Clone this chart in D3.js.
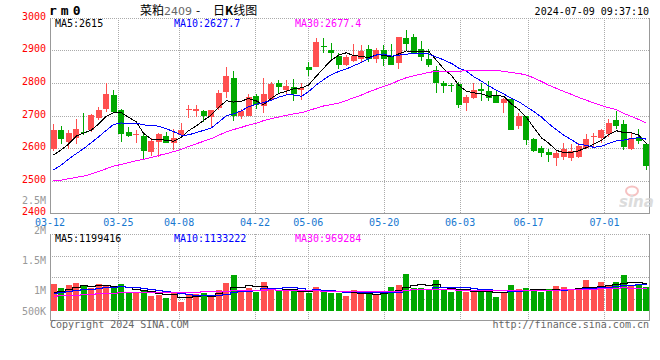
<!DOCTYPE html>
<html>
<head>
<meta charset="UTF-8">
<title>菜粕2409 - 日K线图</title>
<script src="https://d3js.org/d3.v7.min.js"></script>
<style>
    body {
        margin: 0;
        background-color: #fff;
    }
    svg text {
        font-family: "DejaVu Sans Mono", monospace;
        font-size: 10px;
    }
</style>
</head>
<body>
<svg id="main" width="660" height="360"></svg>
<script>
// trading days shown on the chart
const dates = [
    "03-12","03-13","03-14","03-15",
    "03-18","03-19","03-20","03-21","03-22",
    "03-25","03-26","03-27","03-28","03-29",
    "04-01","04-02","04-03",
    "04-08","04-09","04-10","04-11","04-12",
    "04-15","04-16","04-17","04-18","04-19",
    "04-22","04-23","04-24","04-25","04-26",
    "04-29","04-30",
    "05-06","05-07","05-08","05-09","05-10",
    "05-13","05-14","05-15","05-16","05-17",
    "05-20","05-21","05-22","05-23","05-24",
    "05-27","05-28","05-29","05-30","05-31",
    "06-03","06-04","06-05","06-06","06-07",
    "06-11","06-12","06-13","06-14",
    "06-17","06-18","06-19","06-20","06-21",
    "06-24","06-25","06-26","06-27","06-28",
    "07-01","07-02","07-03","07-04","07-05",
    "07-08","07-09"
];

const opens = [
    2596,2656,2620,2630,2650,2654,2693,2719,2763,2717,
    2649,2639,2637,2589,2620,2637,2617,2640,2718,2714,
    2715,2694,2722,2773,2814,2699,2699,2760,2729,2752,
    2801,2778,2787,2778,2848,2848,2913,2901,2883,2855,
    2867,2872,2904,2874,2901,2879,2860,2937,2942,2903,
    2872,2840,2799,2793,2797,2737,2755,2782,2775,2760,
    2739,2750,2668,2697,2629,2599,2589,2570,2574,2571,
    2574,2599,2633,2630,2643,2686,2674,2597,2633,2613
];
const highs = [
    2673,2668,2654,2688,2707,2705,2725,2799,2778,2719,
    2666,2656,2650,2630,2645,2650,2658,2678,2732,2732,
    2717,2717,2778,2850,2835,2720,2766,2766,2814,2804,
    2809,2809,2811,2799,2863,2937,2937,2921,2893,2886,
    2919,2916,2916,2906,2916,2919,2942,2962,2950,2930,
    2903,2852,2806,2799,2804,2763,2799,2801,2806,2778,
    2753,2753,2709,2699,2630,2605,2598,2594,2617,2613,
    2615,2643,2647,2658,2688,2714,2686,2645,2658,2615
];
const lows = [
    2592,2613,2598,2613,2640,2650,2686,2712,2707,2620,
    2635,2617,2566,2576,2574,2615,2594,2633,2691,2694,
    2681,2666,2717,2753,2684,2688,2699,2719,2707,2748,
    2768,2766,2746,2748,2822,2848,2891,2872,2842,2852,
    2865,2862,2865,2860,2852,2854,2842,2899,2891,2868,
    2850,2770,2770,2773,2722,2715,2752,2743,2743,2737,
    2709,2656,2660,2610,2589,2574,2558,2545,2562,2561,
    2570,2596,2602,2615,2633,2658,2594,2594,2613,2533
];
const closes = [
    2654,2627,2645,2659,2645,2702,2717,2766,2712,2643,
    2637,2642,2592,2623,2643,2617,2632,2654,2720,2720,
    2699,2717,2770,2821,2699,2714,2756,2732,2766,2797,
    2787,2791,2766,2783,2840,2926,2909,2893,2856,2879,
    2881,2899,2872,2901,2872,2856,2942,2919,2893,2879,
    2855,2801,2791,2789,2732,2758,2778,2776,2753,2739,
    2750,2656,2699,2625,2592,2584,2579,2584,2596,2592,
    2607,2629,2637,2654,2678,2668,2602,2630,2623,2545
];
const volumes = [
    1140000,950000,1090000,1180000,1090000,940000,1140000,1050000,940000,1140000,
    740000,710000,860000,600000,630000,510000,710000,330000,630000,690000,
    750000,630000,880000,1200000,1550000,790000,970000,790000,1250000,860000,
    830000,850000,860000,790000,710000,1020000,860000,710000,740000,590000,
    860000,710000,710000,630000,820000,1000000,1090000,1600000,970000,970000,
    850000,1320000,850000,770000,850000,770000,790000,850000,910000,560000,
    790000,1090000,910000,950000,850000,790000,910000,1050000,1000000,910000,
    850000,1320000,940000,1230000,1090000,1250000,1550000,1050000,1140000,1020000
];

// sessions before 03-12, estimated from where the moving averages start
const priorCloses = [
    2540,2535,2525,2525,2510,2500,2490,2480,2480,2475,
    2470,2460,2460,2455,2450,2445,2446,2455,2465,2480,
    2470,2470,2485,2500,2510,2545,2560,2535,2600
];
const priorVolumes = [
    500000,550000,480000,520000,600000,450000,500000,580000,620000,470000,
    500000,550000,600000,520000,480000,560000,500000,580000,540000,500000,
    650000,720000,680000,700000,720000,660000,720000,680000,730000
];

const dateTicks = ["03-12","03-25","04-08","04-22","05-06","05-20","06-03","06-17","07-01"];
const priceTicks = [2400, 2500, 2600, 2700, 2800, 2900, 3000];
const volTicks = [500000, 1000000, 1500000, 2000000, 2500000];
const volTickLabels = ["500K", "1M", "1.5M", "2M", "2.5M"];
const maPeriods = [5, 10, 30];
const maColors = ["#000", "#0000ff", "#ff00ff"];
const priceMaText = ["MA5:2615", "MA10:2627.7", "MA30:2677.4"];
const volMaText = ["MA5:1199416", "MA10:1133222", "MA30:969284"];

function movingAvg(prior, series, period) {
    var all = prior.concat(series);
    return series.map((d, i) => {
        var end = prior.length + i + 1;
        return d3.mean(all.slice(end - period, end));
    });
}

var svg = d3.select("#main");
var n = dates.length;
var left = 50, right = 650;
var priceTop = 17.7, priceBottom = 213.3;
var volTop = 234, volBottom = 320;
var up = "#ff5050", down = "#00a800", gridColor = "#aaa", borderColor = "#999";

var x = d3.scaleBand()
    .domain(d3.range(n))
    .range([left, right])
    .paddingInner(0.2)
    .paddingOuter(0.1);
var bw = x.bandwidth();
var cx = i => Math.floor(x(i) + bw / 2) + 0.5;
var xGrid = d3.scaleLinear().domain([0, n - 1]).range([left, right]);
var y = d3.scaleLinear().domain([2400, 3000]).range([priceBottom, priceTop]);
var yVol = d3.scaleLinear().domain([-100000, 2000000]).range([311, 265.4]);
var yVolLabel = d3.scaleLinear().domain([500000, 1000000, 2500000]).range([314.5, 294, 204]);

var tickIdx = dateTicks.map(t => dates.indexOf(t));

// ---- grid ----
var grid = svg.append("g")
    .attr("stroke", gridColor)
    .attr("stroke-dasharray", "1,1")
    .attr("shape-rendering", "crispEdges");

grid.selectAll(".hp")
    .data(priceTicks.slice(1))
    .enter()
    .append("line")
    .attr("x1", left).attr("x2", right)
    .attr("y1", d => Math.round(y(d)) + 0.5)
    .attr("y2", d => Math.round(y(d)) + 0.5);

var volLines = d3.range(0, 4).map(k => volTop + k * (volBottom - volTop) / 4);
grid.selectAll(".hv")
    .data(volLines)
    .enter()
    .append("line")
    .attr("x1", left).attr("x2", right)
    .attr("y1", d => Math.round(d) + 0.5)
    .attr("y2", d => Math.round(d) + 0.5);

grid.selectAll(".vp")
    .data(tickIdx.slice(1))
    .enter()
    .append("line")
    .attr("x1", d => Math.round(xGrid(d)) + 0.5)
    .attr("x2", d => Math.round(xGrid(d)) + 0.5)
    .attr("y1", priceTop).attr("y2", priceBottom);

grid.selectAll(".vv")
    .data(tickIdx.slice(1))
    .enter()
    .append("line")
    .attr("x1", d => Math.round(xGrid(d)) + 0.5)
    .attr("x2", d => Math.round(xGrid(d)) + 0.5)
    .attr("y1", volTop).attr("y2", volBottom);

// solid borders (left, right, bottom)
var borders = svg.append("g")
    .attr("stroke", borderColor)
    .attr("fill", "none")
    .attr("shape-rendering", "crispEdges");
[[priceTop, priceBottom], [volTop, volBottom]].forEach(p => {
    borders.append("path")
        .attr("d", "M" + (left + 0.5) + "," + Math.round(p[0]) +
            "V" + (Math.round(p[1]) + 0.5) +
            "H" + (right - 0.5) +
            "V" + Math.round(p[0]));
});

// sina watermark
var wm = svg.append("g").attr("opacity", 0.8);
wm.append("ellipse")
    .attr("cx", 632).attr("cy", 191).attr("rx", 6).attr("ry", 4.5)
    .attr("fill", "none").attr("stroke", "#f4b4b4").attr("stroke-width", 2);
wm.append("text")
    .attr("x", 619).attr("y", 207)
    .style("font-family", "DejaVu Sans")
    .style("font-size", "15px")
    .style("font-style", "italic")
    .style("font-weight", "bold")
    .attr("fill", "#d4d4d4")
    .text("sina");

// ---- candles ----
var candles = svg.append("g").attr("shape-rendering", "crispEdges");
var color = i => closes[i] >= opens[i] ? up : down;

candles.selectAll(".wick")
    .data(d3.range(n))
    .enter()
    .append("line")
    .attr("x1", cx).attr("x2", cx)
    .attr("y1", i => y(highs[i]))
    .attr("y2", i => y(lows[i]))
    .attr("stroke", color);

candles.selectAll(".body")
    .data(d3.range(n))
    .enter()
    .append("rect")
    .attr("x", i => x(i))
    .attr("width", bw)
    .attr("y", i => y(Math.max(opens[i], closes[i])))
    .attr("height", i => Math.max(1, Math.abs(y(opens[i]) - y(closes[i]))))
    .attr("fill", color);

// price moving averages
maPeriods.forEach((p, k) => {
    var ma = movingAvg(priorCloses, closes, p);
    svg.append("path")
        .datum(ma)
        .attr("fill", "none")
        .attr("stroke", maColors[k])
        .attr("stroke-width", 1)
        .attr("shape-rendering", "crispEdges")
        .attr("d", d3.line().x((d, i) => cx(i)).y(d => y(d)));
});

// ---- volume ----
svg.append("g")
    .attr("shape-rendering", "crispEdges")
    .selectAll("rect")
    .data(d3.range(n))
    .enter()
    .append("rect")
    .attr("x", i => x(i))
    .attr("width", bw)
    .attr("y", i => yVol(volumes[i]))
    .attr("height", i => yVol(-100000) - yVol(volumes[i]))
    .attr("fill", color);

maPeriods.forEach((p, k) => {
    var ma = movingAvg(priorVolumes, volumes, p);
    svg.append("path")
        .datum(ma)
        .attr("fill", "none")
        .attr("stroke", maColors[k])
        .attr("stroke-width", 1)
        .attr("shape-rendering", "crispEdges")
        .attr("d", d3.line().curve(d3.curveStep).x((d, i) => cx(i)).y(d => Math.round(yVol(d)) + 0.5));
});

// ---- labels ----
svg.append("g")
    .selectAll("text")
    .data(priceTicks)
    .enter()
    .append("text")
    .attr("x", 46)
    .attr("y", d => y(d) + 2)
    .attr("text-anchor", "end")
    .attr("fill", "#ff0000")
    .text(d => d);

svg.append("g")
    .selectAll("text")
    .data(volTicks)
    .enter()
    .append("text")
    .attr("x", 46)
    .attr("y", d => yVolLabel(d))
    .attr("text-anchor", "end")
    .attr("fill", "#999")
    .text((d, i) => volTickLabels[i]);

svg.append("g")
    .selectAll("text")
    .data(tickIdx)
    .enter()
    .append("text")
    .attr("x", d => xGrid(d))
    .attr("y", 225.5)
    .attr("text-anchor", "middle")
    .attr("fill", "#1878d0")
    .text(d => dates[d]);

var legendX = [55, 174, 295];
priceMaText.forEach((t, k) => {
    svg.append("text").attr("x", legendX[k]).attr("y", 27)
        .attr("fill", maColors[k]).text(t);
});
volMaText.forEach((t, k) => {
    svg.append("text").attr("x", legendX[k]).attr("y", 241.5)
        .attr("fill", maColors[k]).text(t);
});

// header
svg.append("text")
    .attr("x", 49).attr("y", 15)
    .style("font-size", "13px")
    .style("font-weight", "bold")
    .style("letter-spacing", "4px")
    .text("rm0");

var title = svg.append("text")
    .attr("y", 15)
    .style("font-family", "'Noto Sans CJK SC', sans-serif")
    .style("font-size", "12px");
title.append("tspan").attr("x", 140).text("菜粕");
title.append("tspan").attr("fill", "#666")
    .style("font-family", "'DejaVu Sans', sans-serif")
    .style("font-size", "11px").text("2409");
title.append("tspan").attr("x", 196).text("-");
title.append("tspan").attr("x", 213).text("日");
title.append("tspan").style("font-weight", "bold").text("K");
title.append("tspan").text("线图");

svg.append("text")
    .attr("x", 649).attr("y", 15)
    .attr("text-anchor", "end")
    .text("2024-07-09 09:37:10");

// footer
svg.append("text").attr("x", 50).attr("y", 328)
    .attr("fill", "#666").text("Copyright 2024 SINA.COM");
svg.append("text").attr("x", 649).attr("y", 328)
    .attr("text-anchor", "end")
    .attr("fill", "#666").text("http://finance.sina.com.cn");
</script>
</body>
</html>
